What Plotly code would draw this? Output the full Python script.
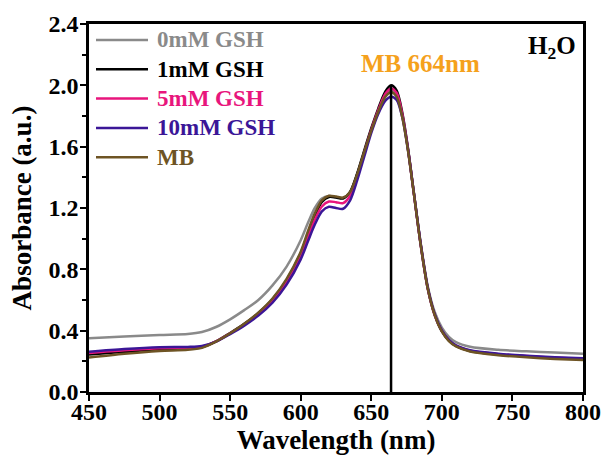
import plotly.graph_objects as go

# Wavelength grid (nm) shared by all spectra
wavelength = [450, 475, 500, 520, 530, 540, 550, 560, 570, 580, 590, 600, 605, 610,
              615, 620, 625, 630, 635, 640, 645, 650, 655, 660, 664, 668, 672, 676,
              680, 685, 690, 695, 700, 705, 710, 720, 740, 760, 780, 800]

abs_0mM = [0.350, 0.362, 0.372, 0.378, 0.391, 0.424, 0.474, 0.534, 0.600, 0.695, 0.818,
           0.990, 1.100, 1.200, 1.262, 1.278, 1.272, 1.265, 1.305, 1.420, 1.565, 1.705,
           1.830, 1.930, 1.965, 1.935, 1.800, 1.580, 1.310, 0.970, 0.690, 0.520, 0.420,
           0.360, 0.325, 0.295, 0.275, 0.265, 0.257, 0.250]

abs_1mM = [0.245, 0.262, 0.278, 0.282, 0.292, 0.330, 0.385, 0.445, 0.515, 0.605, 0.730,
           0.905, 1.030, 1.150, 1.240, 1.272, 1.268, 1.262, 1.305, 1.425, 1.575, 1.720,
           1.850, 1.960, 2.000, 1.965, 1.820, 1.590, 1.310, 0.960, 0.675, 0.500, 0.395,
           0.335, 0.300, 0.268, 0.245, 0.232, 0.222, 0.215]

abs_5mM = [0.255, 0.272, 0.285, 0.288, 0.296, 0.330, 0.382, 0.440, 0.508, 0.595, 0.718,
           0.888, 1.010, 1.125, 1.210, 1.242, 1.238, 1.232, 1.280, 1.405, 1.560, 1.710,
           1.840, 1.945, 1.980, 1.950, 1.810, 1.585, 1.305, 0.960, 0.675, 0.500, 0.398,
           0.337, 0.302, 0.270, 0.247, 0.234, 0.224, 0.217]

abs_10mM = [0.262, 0.280, 0.292, 0.294, 0.300, 0.328, 0.378, 0.433, 0.498, 0.582, 0.700,
            0.865, 0.980, 1.092, 1.178, 1.208, 1.200, 1.195, 1.250, 1.380, 1.535, 1.690,
            1.815, 1.900, 1.925, 1.905, 1.790, 1.580, 1.310, 0.968, 0.682, 0.506, 0.402,
            0.340, 0.305, 0.273, 0.250, 0.237, 0.227, 0.220]

abs_MB = [0.225, 0.250, 0.268, 0.275, 0.288, 0.328, 0.383, 0.445, 0.518, 0.610, 0.738,
          0.915, 1.045, 1.165, 1.250, 1.280, 1.275, 1.268, 1.305, 1.420, 1.565, 1.705,
          1.830, 1.925, 1.955, 1.925, 1.790, 1.575, 1.305, 0.960, 0.675, 0.500, 0.395,
          0.332, 0.297, 0.264, 0.240, 0.226, 0.216, 0.208]

series_names = ["0mM GSH", "1mM GSH", "5mM GSH", "10mM GSH", "MB"]
series_values = [abs_0mM, abs_1mM, abs_5mM, abs_10mM, abs_MB]
series_colors = ["#8a8a8a", "#000000", "#e8157c", "#3b1697", "#6e5424"]

peak_wavelength = 664
peak_value = max(abs_1mM)

x_ticks = [450, 500, 550, 600, 650, 700, 750, 800]
y_ticks = [0.0, 0.4, 0.8, 1.2, 1.6, 2.0, 2.4]

FONT = "Liberation Serif"
W, H = 603, 456
ML, MR, MT, MB_ = 89, 20, 24, 64
PW, PH = W - ML - MR, H - MT - MB_


def px_to_paper(px, py):
    """Convert page pixel position to plot-area paper coordinates."""
    return (px - ML) / PW, (H - MB_ - py) / PH


fig = go.Figure()
for name, vals, col in zip(series_names, series_values, series_colors):
    fig.add_trace(go.Scatter(
        x=wavelength, y=vals, mode="lines", name=name, showlegend=False,
        line=dict(color=col, width=2.5, shape="spline", smoothing=0.8),
    ))

# Peak marker line at the MB absorption maximum
fig.add_shape(type="line", x0=peak_wavelength, x1=peak_wavelength,
              y0=0, y1=peak_value, xref="x", yref="y",
              line=dict(color="black", width=2.5))

# Legend keys: coloured line + coloured bold label
for i, (name, col) in enumerate(zip(series_names, series_colors)):
    row_y = 40 + i * 29.3
    x0, y0 = px_to_paper(96, row_y)
    x1, _ = px_to_paper(148, row_y)
    xt, _ = px_to_paper(155, row_y)
    fig.add_shape(type="line", xref="paper", yref="paper",
                  x0=x0, x1=x1, y0=y0, y1=y0,
                  line=dict(color=col, width=2.5))
    fig.add_annotation(x=xt, y=y0, xref="paper", yref="paper",
                       xanchor="left", yanchor="middle", showarrow=False,
                       text=f"<b>{name}</b>",
                       font=dict(family=FONT, size=23, color=col))

fig.add_annotation(x=685, y=2.14, xref="x", yref="y",
                   text="<b>MB 664nm</b>", showarrow=False,
                   font=dict(family=FONT, size=25, color="#f5a11c"))
fig.add_annotation(x=0.99, y=0.985, xref="paper", yref="paper",
                   xanchor="right", yanchor="top",
                   text="<b>H<sub>2</sub>O</b>", showarrow=False,
                   font=dict(family=FONT, size=25, color="black"))

axis_common = dict(
    showline=True, linecolor="black", linewidth=2.5, mirror=True,
    ticks="outside", ticklen=6, tickwidth=2, tickcolor="black",
    showgrid=False, zeroline=False, automargin=False,
    tickfont=dict(family=FONT, size=24, color="black", weight="bold"),
)

fig.update_xaxes(
    range=[450, 800], tickvals=x_ticks, ticktext=[str(v) for v in x_ticks],
    ticklabelstandoff=-10,
    title=dict(text="<b>Wavelength (nm)</b>", standoff=0,
               font=dict(family=FONT, size=27, color="black")),
    **axis_common,
)
fig.update_yaxes(
    range=[0, 2.4], tickvals=y_ticks, ticktext=[f"{v:.1f}" for v in y_ticks],
    ticklabelstandoff=-3,
    minor=dict(tickvals=[0.2, 0.6, 1.0, 1.4, 1.8, 2.2], ticks="outside",
               ticklen=4, tickwidth=2, tickcolor="black"),
    title=dict(text="<b>Absorbance (a.u.)</b>", standoff=10,
               font=dict(family=FONT, size=27, color="black")),
    **axis_common,
)

fig.update_layout(
    width=W, height=H,
    margin=dict(l=ML, r=MR, t=MT, b=MB_),
    plot_bgcolor="white", paper_bgcolor="white",
    showlegend=False,
)

fig.write_html("out.html")
